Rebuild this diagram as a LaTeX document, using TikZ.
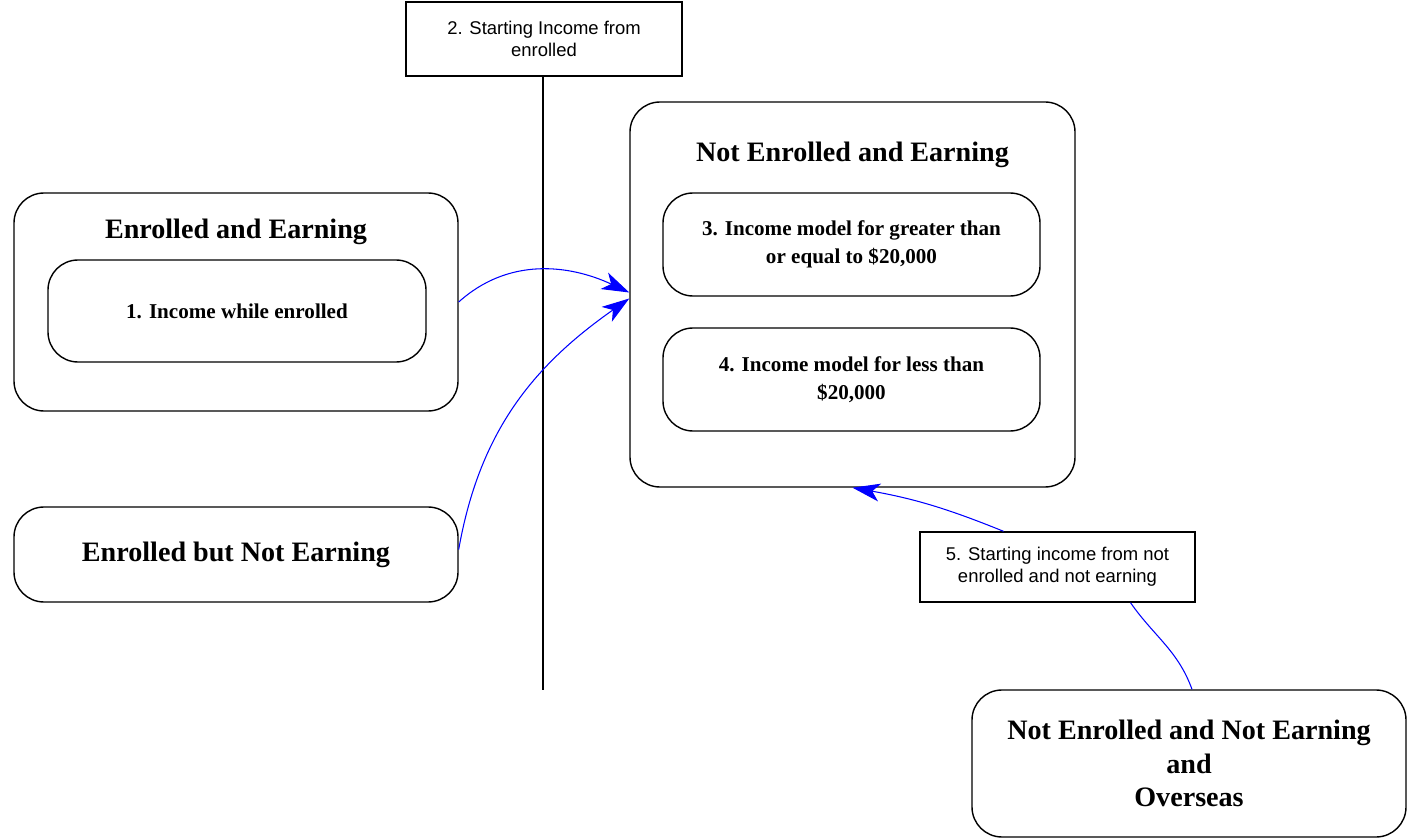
\documentclass[tikz,border=0pt]{standalone}
\usepackage{fontspec}
\setmainfont{Liberation Serif}
\setsansfont{Liberation Sans}
\usetikzlibrary{positioning,arrows.meta}

\tikzset{
  roundbox/.style = {draw, line width = 0.8pt, shape = rectangle, rounded corners = 0.6cm, align = center},
  stepbox/.style = {draw, line width = 0.8pt, shape = rectangle, align = center, font = \sffamily\fontsize{10.5}{12.5}\selectfont},
  boxtitle/.style = {font = \bfseries\fontsize{16}{19}\selectfont, align = center},
  innertext/.style = {font = \bfseries\fontsize{12}{16}\selectfont},
  flow/.style = {draw = blue, line width = 0.6pt},
  flowarrow/.style = {flow, -{Stealth[length = 0.55cm, width = 0.36cm, inset = 0.15cm]}}
}

\begin{document}
\begin{tikzpicture}
\useasboundingbox (0,0) rectangle (28.14,-16.78);

\node[stepbox, minimum width = 5.52cm, minimum height = 1.48cm] (start2) at (10.88,-0.78) {2. Starting Income from\\enrolled};
\coordinate (divend) at (10.86,-13.8);
\draw[line width = 0.8pt] (start2.south -| divend) -- (divend);

\node[roundbox, minimum width = 8.9cm, minimum height = 7.7cm] (notenrolled) at (17.05,-5.89) {};
\node[boxtitle] (notenrolledtitle) at (17.05,-3.10) {Not Enrolled and Earning};
\node[roundbox, innertext, minimum width = 7.54cm, minimum height = 2.06cm] (model3) at (17.03,-4.89) {3. Income model for greater than\\or equal to \$20,000};
\node[roundbox, innertext, minimum width = 7.54cm, minimum height = 2.06cm] (model4) at (17.03,-7.59) {4. Income model for less than\\\$20,000};

\node[roundbox, minimum width = 8.88cm, minimum height = 4.36cm] (enrolled) at (4.72,-6.04) {};
\node[boxtitle] (enrolledtitle) at (4.72,-4.64) {Enrolled and Earning};
\node[roundbox, innertext, minimum width = 7.56cm, minimum height = 2.04cm] (model1) at (4.74,-6.22) {1. Income while enrolled};

\node[roundbox, boxtitle, minimum width = 8.88cm, minimum height = 1.9cm] (notearning) at (4.72,-11.09) {Enrolled but Not Earning};

\node[stepbox, minimum width = 5.5cm, minimum height = 1.4cm] (start5) at (21.15,-11.34) {5. Starting income from not\\enrolled and not earning};

\node[roundbox, boxtitle, minimum width = 8.68cm, minimum height = 2.94cm] (overseas) at (23.78,-15.27) {Not Enrolled and Not Earning\\and\\Overseas};

% flows into the earning group
\draw[flowarrow] (enrolled.east) to[out = 42, in = 155] ([yshift = 0.04cm]notenrolled.west);
\draw[flowarrow] ([yshift = 0.1cm]notearning.east) to[out = 80, in = 215] ([yshift = -0.08cm]notenrolled.west);
\draw[flowarrow] ([xshift = -1.08cm]start5.north) to[bend right = 6] (notenrolled.south);
\draw[flow] ([xshift = 0.06cm]overseas.north) to[out = 110, in = -55] ([xshift = 1.46cm]start5.south);
\end{tikzpicture}
\end{document}
